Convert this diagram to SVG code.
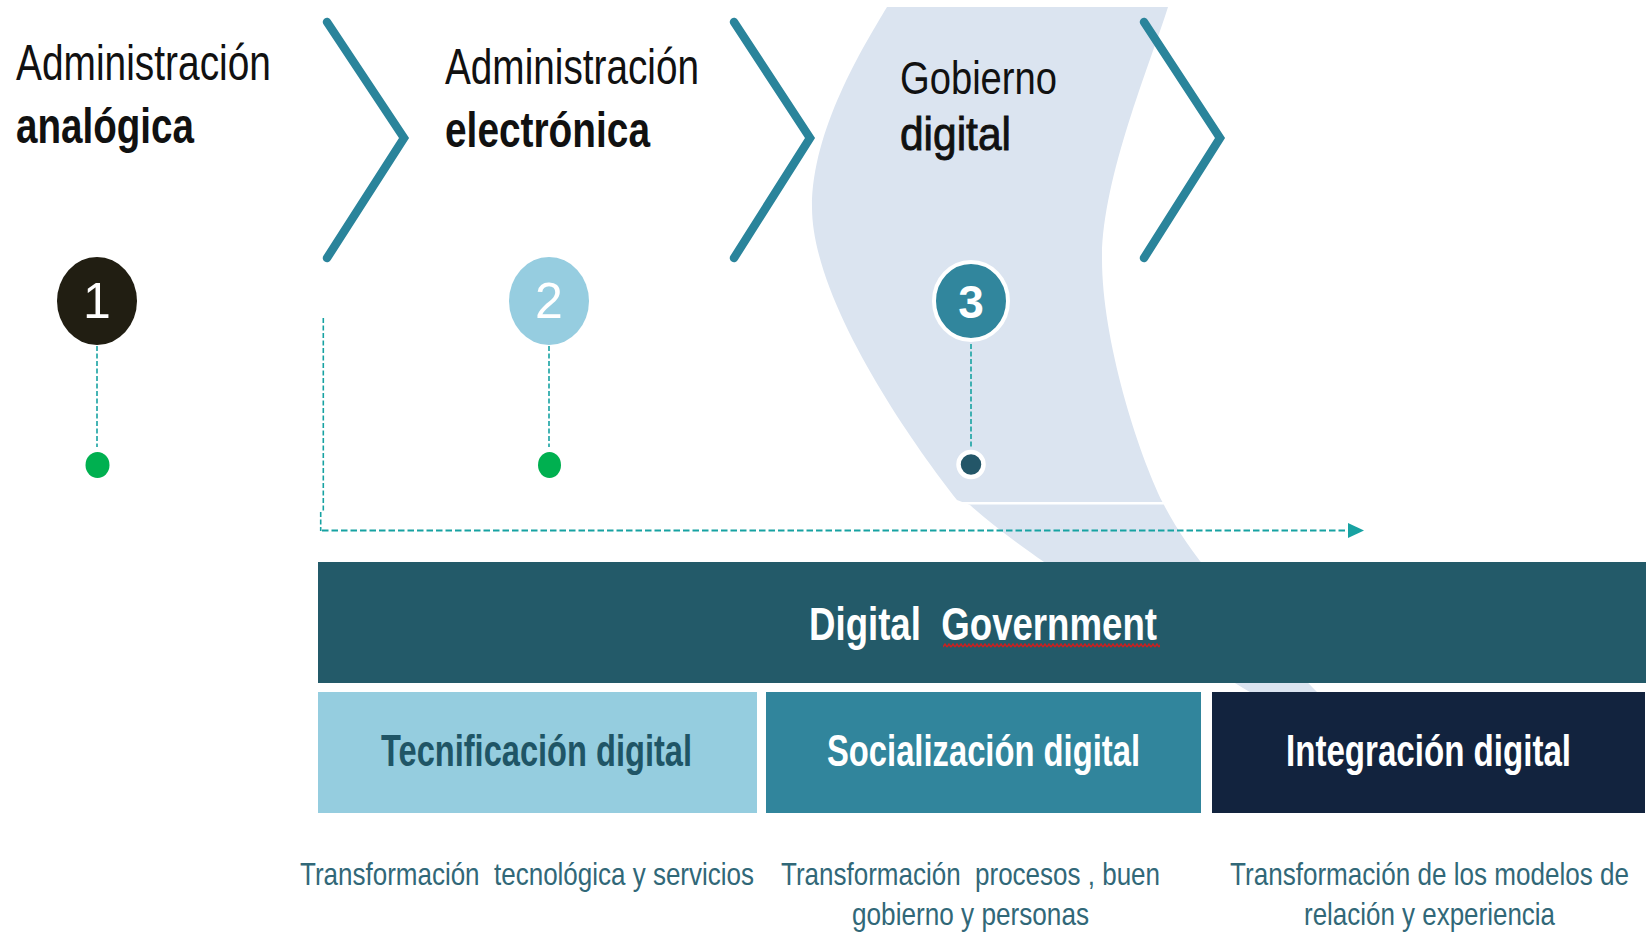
<svg xmlns="http://www.w3.org/2000/svg" width="1652" height="933" viewBox="0 0 1652 933">
<defs>
<style>
.n{font-family:"Liberation Sans Narrow","Liberation Sans",Arial,sans-serif}
.b{font-weight:bold}
.hd{font-size:50px;fill:#111}
.chev{fill:none;stroke:#2a849b;stroke-width:8.5;stroke-linecap:round;stroke-linejoin:miter}
.dash{fill:none;stroke:#17a2a2;stroke-width:1.6;stroke-dasharray:5 2.5}
.dashh{fill:none;stroke:#17a2a2;stroke-width:2;stroke-dasharray:6.5 3}
.bt{font-size:44px;font-weight:bold}
.low{font-size:32px;fill:#316878}
</style>
<pattern id="sq" x="943" y="643" width="4" height="5" patternUnits="userSpaceOnUse">
<path d="M0 4 L2 1 L4 4" fill="none" stroke="#cc1f1f" stroke-width="1.4"/>
</pattern>
</defs>
<rect width="1652" height="933" fill="#fff"/>

<g id="band">
<path d="M 887 7 L 1168 7 C 1149 67, 1102 179, 1102 259 C 1102 340, 1138 453, 1163 503 C 1193 563, 1256 628, 1313 688 L 1385 760 L 1365 760 L 1243 688 C 1179 648, 1036 565, 970 505 L 957 500 C 910 440, 812 300, 812 207 C 812 130, 863 47, 887 7 Z" fill="#dbe4f0"/>
<rect x="940" y="502" width="232" height="2.5" fill="#fff"/>
</g>

<g id="chevrons">
<polyline class="chev" points="327,22 404,138 327,258"/>
<polyline class="chev" points="734,22 810,138 734,258"/>
<polyline class="chev" points="1144,22 1220,138 1144,258"/>
</g>

<g id="stage1">
<text class="n hd" x="16" y="80" textLength="255" lengthAdjust="spacingAndGlyphs">Administración</text>
<text class="n hd b" x="16" y="143" textLength="178" lengthAdjust="spacingAndGlyphs">analógica</text>
<ellipse cx="97" cy="301" rx="40" ry="44" fill="#211e12"/>
<text class="n" x="97" y="318" font-size="50" fill="#fff" text-anchor="middle">1</text>
<ellipse cx="97.5" cy="465" rx="12" ry="13" fill="#00b050"/>
</g>

<g id="stage2">
<text class="n hd" x="445" y="84" textLength="254" lengthAdjust="spacingAndGlyphs">Administración</text>
<text class="n hd b" x="445" y="147" textLength="205" lengthAdjust="spacingAndGlyphs">electrónica</text>
<ellipse cx="549" cy="301" rx="40" ry="44" fill="#96cde0"/>
<text class="n" x="549" y="318" font-size="50" fill="#fff" text-anchor="middle">2</text>
<ellipse cx="549.5" cy="465" rx="11.5" ry="13" fill="#00b050"/>
</g>

<g id="stage3">
<text class="n" x="900" y="94" font-size="46" fill="#111" textLength="157" lengthAdjust="spacingAndGlyphs">Gobierno</text>
<text class="n" x="900" y="150" font-size="46" fill="#111" stroke="#111" stroke-width="0.9" textLength="111" lengthAdjust="spacingAndGlyphs">digital</text>
<ellipse cx="971" cy="301" rx="37" ry="39" fill="#31869d" stroke="#fff" stroke-width="4"/>
<text class="n b" x="971" y="318" font-size="46" fill="#fff" text-anchor="middle">3</text>
<ellipse cx="971" cy="464.5" rx="12.5" ry="12.5" fill="#235668" stroke="#fff" stroke-width="4.5"/>
</g>

<g id="connectors">
<line class="dash" x1="97" y1="346" x2="97" y2="447"/>
<line class="dash" x1="549" y1="346" x2="549" y2="447"/>
<line class="dash" x1="971" y1="344" x2="971" y2="447"/>
<line class="dash" x1="323.3" y1="318" x2="323.3" y2="512"/>
<line class="dash" x1="320.7" y1="512" x2="320.7" y2="531"/>
<line class="dashh" x1="322" y1="530.5" x2="1350" y2="530.5"/>
<polygon points="1348,523 1364,530.5 1348,538" fill="#17a2a2"/>
</g>

<g id="digital-government">
<rect x="318" y="562" width="1328" height="121" fill="#235a69"/>
<text class="n" xml:space="preserve" x="809" y="640" font-size="47" font-weight="bold" fill="#fff" textLength="348" lengthAdjust="spacingAndGlyphs">Digital  Government</text>
<rect x="943" y="643" width="217" height="5" fill="url(#sq)"/>
</g>

<g id="tecnificacion">
<rect x="318" y="692" width="439" height="121" fill="#95cddf"/>
<text class="n bt" x="381" y="766" fill="#1f5566" textLength="311" lengthAdjust="spacingAndGlyphs">Tecnificación digital</text>
<text class="n low" xml:space="preserve" x="300" y="885" textLength="454" lengthAdjust="spacingAndGlyphs">Transformación  tecnológica y servicios</text>
</g>

<g id="socializacion">
<rect x="766" y="692" width="435" height="121" fill="#31859c"/>
<text class="n bt" x="827" y="766" fill="#fff" textLength="313" lengthAdjust="spacingAndGlyphs">Socialización digital</text>
<text class="n low" xml:space="preserve" x="781" y="885" textLength="379" lengthAdjust="spacingAndGlyphs">Transformación  procesos , buen</text>
<text class="n low" x="852" y="925" textLength="237" lengthAdjust="spacingAndGlyphs">gobierno y personas</text>
</g>

<g id="integracion">
<rect x="1212" y="692" width="433" height="121" fill="#12233e"/>
<text class="n bt" x="1286" y="766" fill="#fff" textLength="285" lengthAdjust="spacingAndGlyphs">Integración digital</text>
<text class="n low" x="1230" y="885" textLength="399" lengthAdjust="spacingAndGlyphs">Transformación de los modelos de</text>
<text class="n low" x="1304" y="925" textLength="251" lengthAdjust="spacingAndGlyphs">relación y experiencia</text>
</g>
</svg>
